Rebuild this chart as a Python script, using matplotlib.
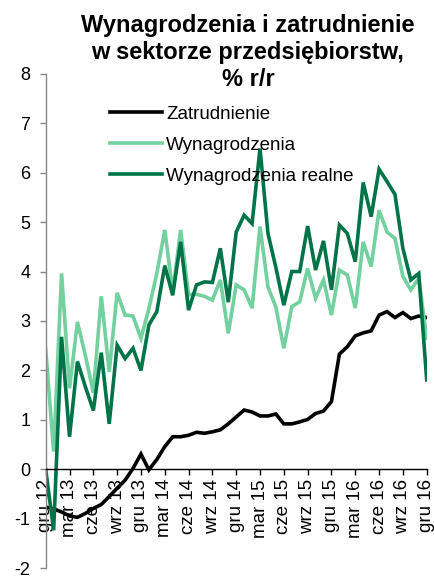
import matplotlib
matplotlib.use("Agg")
import matplotlib.pyplot as plt
import numpy as np

plt.rcParams['font.family'] = ['Liberation Sans', 'DejaVu Sans']

months = ["gru", "sty", "lut", "mar", "kwi", "maj", "cze", "lip", "sie", "wrz", "paź", "lis"]
periods = []
for i in range(49):
    m = months[i % 12]
    yr = 12 + (i + 11) // 12
    periods.append(f"{m} {yr}")

tick_labels = ["gru 12", "mar 13", "cze 13", "wrz 13", "gru 13", "mar 14", "cze 14", "wrz 14",
               "gru 14", "mar 15", "cze 15", "wrz 15", "gru 15", "mar 16", "cze 16", "wrz 16", "gru 16"]

zatrudnienie = [-0.76, -0.80, -0.86, -0.94, -0.97, -0.89, -0.79, -0.71, -0.55, -0.38, -0.22, 0.02,
                0.31, -0.01, 0.20, 0.46, 0.66, 0.66, 0.69, 0.75, 0.73, 0.76, 0.80, 0.92,
                1.06, 1.20, 1.16, 1.08, 1.08, 1.12, 0.92, 0.92, 0.96, 1.01, 1.13, 1.18,
                1.37, 2.33, 2.48, 2.70, 2.76, 2.80, 3.12, 3.19, 3.07, 3.17, 3.05, 3.10, 3.07]

wynagrodzenia = [2.43, 0.36, 3.96, 1.64, 2.98, 2.30, 1.55, 3.50, 1.97, 3.57, 3.12, 3.10,
                 2.65, 3.25, 3.96, 4.84, 3.60, 4.84, 3.53, 3.54, 3.50, 3.42, 3.83, 2.75,
                 3.73, 3.63, 3.26, 4.91, 3.69, 3.28, 2.45, 3.29, 3.39, 4.06, 3.46, 3.83,
                 3.12, 4.03, 3.93, 3.26, 4.60, 4.10, 5.24, 4.80, 4.67, 3.90, 3.63, 3.86, 2.65]

wynagrodzenia_realne = [0.00, -1.23, 2.68, 0.66, 2.18, 1.67, 1.19, 2.36, 0.92, 2.51, 2.24, 2.45,
                        2.00, 2.92, 3.19, 4.12, 3.52, 4.60, 3.22, 3.73, 3.79, 3.78, 4.47, 3.38,
                        4.80, 5.14, 4.97, 6.49, 4.77, 4.08, 3.32, 4.00, 4.00, 4.92, 4.03, 4.62,
                        3.63, 4.94, 4.77, 4.20, 5.80, 5.11, 6.07, 5.82, 5.56, 4.47, 3.83, 3.96, 1.81]

series_names = ["Zatrudnienie", "Wynagrodzenia", "Wynagrodzenia realne"]
colors = ["#000000", "#72D19E", "#007448"]

W, H = 435, 576
fig = plt.figure(figsize=(W / 100, H / 100), dpi=100)
left, right = 45.7, 426.7
top, bottom = 73.7, 568.3
ax = fig.add_axes([left / W, 1 - bottom / H, (right - left) / W, (bottom - top) / H])

x = np.arange(len(periods))
for vals, name, col in zip([zatrudnienie, wynagrodzenia, wynagrodzenia_realne], series_names, colors):
    ax.plot(x, vals, color=col, lw=2.6, label=name, solid_joinstyle='miter')

ax.spines['top'].set_visible(False)
ax.spines['right'].set_visible(False)
ax.spines['left'].set_color('#868686')
ax.spines['left'].set_linewidth(1.0)
ax.spines['bottom'].set_position(('data', 0))
ax.spines['bottom'].set_color('black')
ax.spines['bottom'].set_linewidth(1.0)

ax.set_xlim(0, len(periods) - 1)
ax.set_ylim(-2, 8)
ax.set_yticks(range(-2, 9))
ax.set_yticklabels([str(v) for v in range(-2, 9)])
ax.set_xticks(x[::3])
ax.set_xticklabels(tick_labels, rotation=90, ha='center', va='top')
ax.tick_params(axis='y', direction='out', length=4, width=1, color='#868686', pad=7, labelsize=13)
ax.tick_params(axis='x', direction='out', length=4, width=1, color='black', pad=3, labelsize=13.5)

leg = ax.legend(loc='upper left', bbox_to_anchor=(0.15, 0.951), frameon=False, fontsize=13.5,
                handlelength=2.75, handletextpad=0.22, labelspacing=0.75, borderaxespad=0)

fig.text(0.57, 0.976, "Wynagrodzenia i zatrudnienie\nw sektorze przedsiębiorstw,\n% r/r",
         ha='center', va='top', fontsize=17, fontweight='bold', linespacing=1.22)

fig.savefig("out.png", dpi=100)
